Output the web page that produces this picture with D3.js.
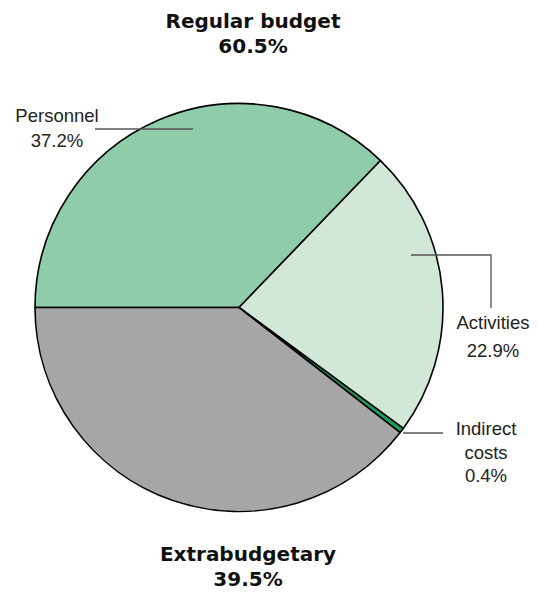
<!DOCTYPE html>
<html lang="en">
<head>
    <meta charset="UTF-8">
    <title>Budget split</title>
    <script src="https://d3js.org/d3.v7.min.js"></script>
    <style>
        body { margin: 0; background: #fff; }
        .lbl { font-family: "Liberation Sans", Arial, sans-serif; font-size: 18.5px; fill: #222; }
        .ttl { font-family: "DejaVu Sans", sans-serif; font-weight: bold; font-size: 20px; fill: #111; }
    </style>
</head>
<body>
    <div id="chart"></div>
    <script>
        const categories = ["Personnel", "Activities", "Indirect costs", "Extrabudgetary"];
        const shares = [37.2, 22.9, 0.4, 39.5];
        const colors = ["#8fcca9", "#d1e8d9", "#16a05c", "#a6a6a6"];

        const width = 538, height = 593;
        const cx = 239, cy = 307.5, radius = 204;

        const svg = d3.select("#chart").append("svg")
            .attr("width", width)
            .attr("height", height);

        const pie = d3.pie().sort(null)
            .startAngle(-Math.PI / 2)
            .endAngle(Math.PI * 1.5)
            .value(d => d);
        const arc = d3.arc().innerRadius(0).outerRadius(radius);

        const g = svg.append("g").attr("transform", `translate(${cx},${cy})`);
        g.selectAll("path")
            .data(pie(shares))
            .enter().append("path")
            .attr("d", arc)
            .attr("fill", (d, i) => colors[i])
            .attr("stroke", "#000")
            .attr("stroke-width", 1.6)
            .attr("stroke-linejoin", "round");

        // leader lines
        const leaders = [
            [[95, 129], [193, 129]],
            [[411, 255], [491, 255], [491, 308]],
            [[403, 433], [443, 433]]
        ];
        svg.selectAll("polyline")
            .data(leaders)
            .enter().append("polyline")
            .attr("points", d => d.map(p => p.join(",")).join(" "))
            .attr("fill", "none")
            .attr("stroke", "#555")
            .attr("stroke-width", 1.3);

        // slice labels
        const labels = [
            { x: 57, y: 122, lines: ["Personnel", shares[0].toFixed(1) + "%"], dy: 25 },
            { x: 493, y: 329, lines: ["Activities", shares[1].toFixed(1) + "%"], dy: 28 },
            { x: 486, y: 435, lines: ["Indirect", "costs", shares[2].toFixed(1) + "%"], dy: 23.5 }
        ];
        labels.forEach(l => {
            const t = svg.append("text")
                .attr("class", "lbl")
                .attr("text-anchor", "middle")
                .attr("x", l.x).attr("y", l.y);
            l.lines.forEach((s, i) => {
                t.append("tspan").attr("x", l.x).attr("dy", i ? l.dy : 0).text(s);
            });
        });

        // group titles
        const regular = d3.sum(shares.slice(0, 3));
        const titles = [
            { x: 253, y: 28, lines: ["Regular budget", regular.toFixed(1) + "%"] },
            { x: 248, y: 561, lines: ["Extrabudgetary", shares[3].toFixed(1) + "%"] }
        ];
        titles.forEach(l => {
            const t = svg.append("text")
                .attr("class", "ttl")
                .attr("text-anchor", "middle")
                .attr("x", l.x).attr("y", l.y);
            l.lines.forEach((s, i) => {
                t.append("tspan").attr("x", l.x).attr("dy", i ? 25 : 0).text(s);
            });
        });
    </script>
</body>
</html>
